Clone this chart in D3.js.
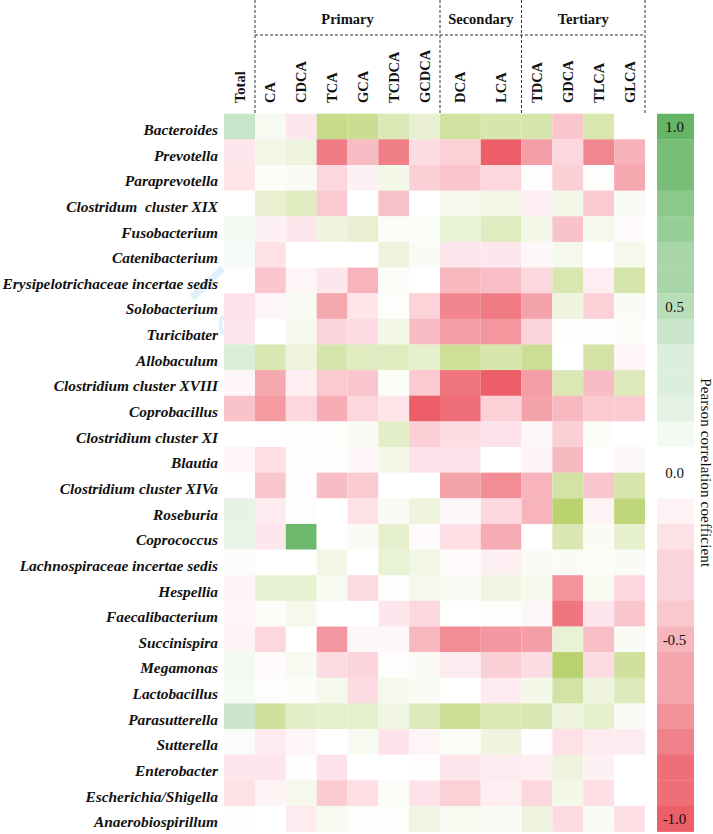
<!DOCTYPE html>
<html><head><meta charset="utf-8">
<script src="https://cdn.jsdelivr.net/npm/d3@7"></script>
<style>
html,body{margin:0;padding:0;background:#fff}
svg{display:block}
text{font-family:"Liberation Serif","Times New Roman",serif;fill:#111}
</style></head><body><svg id="c" width="713" height="834"></svg>
<script>
const taxa=["Bacteroides","Prevotella","Paraprevotella","Clostridum  cluster XIX","Fusobacterium","Catenibacterium","Erysipelotrichaceae incertae sedis","Solobacterium","Turicibater","Allobaculum","Clostridium cluster XVIII","Coprobacillus","Clostridium cluster XI","Blautia","Clostridium cluster XIVa","Roseburia","Coprococcus","Lachnospiraceae incertae sedis","Hespellia","Faecalibacterium","Succinispira","Megamonas","Lactobacillus","Parasutterella","Sutterella","Enterobacter","Escherichia/Shigella","Anaerobiospirillum"];
const acids=["Total","CA","CDCA","TCA","GCA","TCDCA","GCDCA","DCA","LCA","TDCA","GDCA","TLCA","GLCA"];
const groups=["Primary","Secondary","Tertiary"];
const groupStart=[1,7,9];
const groupEnd=[7,9,13];
const r00=[.28,.04,-.12,.4,.38,.24,.14,.32,.27,.28,-.3,.26,0];
const r01=[-.12,.07,.1,-.72,-.35,-.7,-.17,-.24,-.98,-.52,-.2,-.65,-.42];
const r02=[-.13,.02,.03,-.2,-.07,.06,-.25,-.3,-.2,-.01,-.25,.01,-.47];
const r03=[0,.14,.2,-.28,0,-.33,0,.05,.07,-.09,.06,-.28,.03];
const r04=[.06,-.07,-.12,.09,.14,.02,.02,.12,.2,.06,-.32,.05,-.02];
const r05=[.04,-.15,0,0,0,.1,.03,-.12,-.12,-.04,.05,0,.05];
const r06=[0,-.3,-.05,-.12,-.4,.02,0,-.38,-.34,-.2,.26,-.09,.28];
const r07=[-.14,-.05,.03,-.47,-.13,.01,-.23,-.66,-.72,-.5,.09,-.24,.03];
const r08=[-.12,0,.05,-.22,-.18,.06,-.35,-.52,-.57,-.22,.01,-.01,.02];
const r09=[.2,.25,.1,.28,.2,.2,.16,.35,.27,.36,0,.3,-.05];
const r10=[-.05,-.47,-.08,-.28,-.3,.02,-.28,-.75,-.97,-.53,.24,-.35,.22];
const r11=[-.32,-.55,-.2,-.45,-.2,-.13,-.98,-.8,-.24,-.5,-.38,-.28,-.27];
const r12=[0,0,.01,.01,.03,.17,-.25,-.17,-.14,-.04,-.25,.02,0];
const r13=[-.05,-.16,.01,.01,-.05,.06,-.14,-.14,0,-.06,-.37,0,-.04];
const r14=[0,-.3,-.01,-.35,-.27,0,0,-.5,-.62,-.4,.3,-.3,.27];
const r15=[.13,-.1,.01,0,-.15,.03,.1,-.04,-.2,-.4,.5,-.06,.46];
const r16=[.12,-.12,1,0,.03,.15,-.02,-.16,-.45,0,.25,.03,.15];
const r17=[.02,0,0,.07,0,.12,.07,-.02,-.08,.03,.03,.02,.03];
const r18=[-.06,.13,.13,.04,-.18,-.01,.05,.03,.08,.05,-.58,.04,-.2];
const r19=[-.05,.02,.05,0,0,-.12,-.2,0,.01,-.04,-.75,-.12,-.3];
const r20=[-.06,-.2,0,-.56,-.04,-.04,-.38,-.62,-.56,-.52,.12,-.34,.03];
const r21=[.07,-.02,.04,-.18,-.22,-.01,.03,-.1,-.25,-.18,.52,-.18,.33];
const r22=[.05,.01,.02,.05,-.18,.05,.03,0,-.1,.06,.3,.1,.22];
const r23=[.27,.33,.18,.15,.16,.08,.22,.36,.24,.25,.1,.15,.03];
const r24=[.03,-.1,-.05,0,.04,-.14,-.05,.02,.09,-.01,-.15,-.1,-.1];
const r25=[-.12,-.12,.01,-.14,0,0,-.01,-.12,-.1,-.08,.1,-.07,0];
const r26=[-.15,-.06,.05,-.27,-.16,.02,-.14,-.24,-.09,-.2,.06,-.16,0];
const r27=[-.01,0,-.1,.04,.01,.01,.08,.04,.03,.1,-.18,.03,-.16];
const matrix=[r00,r01,r02,r03,r04,r05,r06,r07,r08,r09,r10,r11,r12,r13,r14,r15,r16,r17,r18,r19,r20,r21,r22,r23,r24,r25,r26,r27];
const legendSteps=[1,.88,.88,.75,.68,.56,.56,.46,.34,.23,.23,.18,.08,0,0,-.08,-.18,-.26,-.26,-.34,-.46,-.56,-.56,-.68,-.79,-.9,-.9,-1];
const legendTicks=[1,.5,0,-.5,-1];
const legendTickRow=[0,7,13.5,20,27];

const svg=d3.select("#c");
const y=d3.scaleBand().domain(d3.range(taxa.length)).range([113.7,831.6]);
const x=d3.scaleLinear().domain([0,1,7,9,13]).range([224,255,440,521.5,645]);
const barColor=d3.scaleLinear().domain([-1,-.18,0,1]).range(["#ec5f68","#fce1e7","#ffffff","#66b566"]);
const totalColor=d3.scaleLinear().domain([-.88,-.15,0,.8]).range(["#ec5f68","#fde1e7","#ffffff","#66b566"]).clamp(true);
const cellColor=d3.scaleLinear().domain([-.88,-.15,0,.08,.5,1]).range(["#ec5f68","#fde1e7","#ffffff","#eff5e1","#bbd36f","#6cb96e"]).clamp(true);

// faint watermark the reference carries behind the labels
const wm=svg.append("g").attr("fill","none").attr("stroke","#e0f1fc");
wm.append("path").attr("d",d3.line()([[192,298],[223,268]])).attr("stroke-width",7);
wm.append("path").attr("d",d3.line().curve(d3.curveBasis)([[223,316],[219,325],[223,334]])).attr("stroke-width",4);

const cells=matrix.flatMap((row,r)=>row.map((v,c)=>({r,c,v})));
svg.append("g").selectAll("rect").data(cells).join("rect")
 .attr("x",d=>x(d.c)).attr("width",d=>x(d.c+1)-x(d.c))
 .attr("y",d=>y(d.r)).attr("height",y.bandwidth()+.3)
 .attr("fill",d=>d.c===0?totalColor(d.v):cellColor(d.v));

const rowAxis=d3.axisLeft(d3.scaleBand().domain(taxa).range(y.range())).tickSize(0).tickPadding(6);
const ra=svg.append("g").attr("transform","translate(224,0)").call(rowAxis);
ra.select(".domain").remove();
ra.selectAll("text").attr("font-size",15.4).attr("font-weight","bold").attr("font-style","italic")
  .attr("font-family",null).style("white-space","pre").attr("dy","0.55em");

svg.append("g").selectAll("text").data(acids).join("text")
 .attr("transform",(d,i)=>`translate(${(x(i)+x(i+1))/2+5},103) rotate(-90)`)
 .attr("font-size",14.5).attr("font-weight","bold").text(d=>d);

svg.append("g").selectAll("text").data(groups).join("text")
 .attr("x",(d,i)=>(x(groupStart[i])+x(groupEnd[i]))/2).attr("y",24)
 .attr("text-anchor","middle").attr("font-size",14.5).attr("font-weight","bold").text(d=>d);

const dash=svg.append("g").attr("stroke","#333").attr("stroke-width",1).attr("stroke-dasharray","3 2").attr("fill","none");
const breaks=[1,7,9,13];
dash.selectAll("line.v").data(breaks).join("line").attr("class","v")
 .attr("x1",d=>x(d)).attr("x2",d=>x(d)).attr("y1",0).attr("y2",y.range()[0]);
dash.append("line").attr("x1",x(1)).attr("x2",x(13)).attr("y1",35).attr("y2",35);

const barX=657,barW=37;
svg.append("g").selectAll("rect").data(legendSteps).join("rect")
 .attr("x",barX).attr("width",barW)
 .attr("y",(d,i)=>y(i)).attr("height",y.bandwidth()+.3)
 .attr("fill",d=>barColor(d));
svg.append("g").selectAll("text").data(legendTicks).join("text")
 .attr("x",barX+barW/2-1)
 .attr("y",(d,i)=>y(0)+(legendTickRow[i]+.5)*y.bandwidth())
 .attr("dy","0.38em").attr("text-anchor","middle").attr("font-size",15)
 .text(d=>d.toFixed(1));
svg.append("text").attr("transform",`translate(700.5,${y(0)+14*y.bandwidth()}) rotate(90)`)
 .attr("text-anchor","middle").attr("font-size",15).attr("textLength",189).text("Pearson correlation coefficient");
</script></body></html>
